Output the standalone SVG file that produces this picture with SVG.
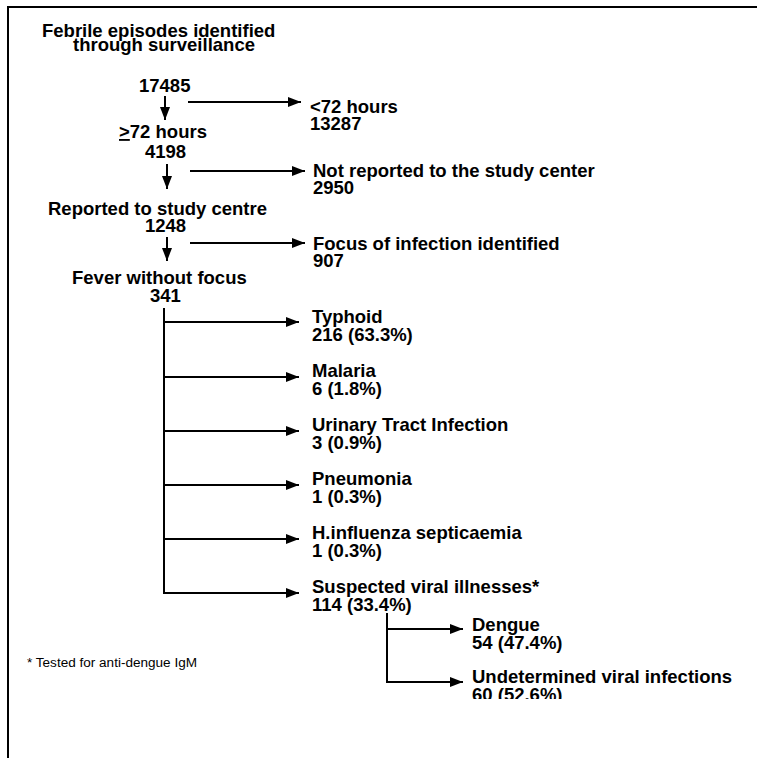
<svg xmlns="http://www.w3.org/2000/svg" width="757" height="758" viewBox="0 0 757 758">
<style>
.t{font-family:"Liberation Sans",Arial,sans-serif;font-size:18.5px;font-weight:bold;fill:#000}
.fn{font-family:"Liberation Sans",Arial,sans-serif;font-size:12px;fill:#000}
.c{stroke:#000;stroke-width:2;fill:none}
</style>
<defs>
<marker id="ah" markerUnits="userSpaceOnUse" markerWidth="14" markerHeight="10" refX="13" refY="5" orient="auto">
<path d="M0,0 L13,5 L0,10 z" fill="#000"/>
</marker>
<clipPath id="clip907"><rect x="300" y="240" width="200" height="28"/></clipPath>
<clipPath id="clip60"><rect x="460" y="670" width="300" height="29"/></clipPath>
</defs>
<rect width="757" height="758" fill="#fff"/>
<g id="frame">
<path class="c" d="M8,758 L8,7 L757,7"/>
</g>
<g id="connectors">
<path class="c" d="M165,96 L165,120" marker-end="url(#ah)"/>
<path class="c" d="M188,102 L301,102" marker-end="url(#ah)"/>
<path class="c" d="M167,164 L167,189" marker-end="url(#ah)"/>
<path class="c" d="M190,171 L305,171" marker-end="url(#ah)"/>
<path class="c" d="M167,237 L167,261" marker-end="url(#ah)"/>
<path class="c" d="M190,243 L305,243" marker-end="url(#ah)"/>
<path class="c" d="M164,308 L164,593"/>
<path class="c" d="M163,322 L299,322" marker-end="url(#ah)"/>
<path class="c" d="M163,377 L299,377" marker-end="url(#ah)"/>
<path class="c" d="M163,431 L299,431" marker-end="url(#ah)"/>
<path class="c" d="M163,485 L299,485" marker-end="url(#ah)"/>
<path class="c" d="M163,539 L299,539" marker-end="url(#ah)"/>
<path class="c" d="M163,593 L299,593" marker-end="url(#ah)"/>
<path class="c" d="M387,613 L387,683"/>
<path class="c" d="M386,629 L463,629" marker-end="url(#ah)"/>
<path class="c" d="M386,682 L463,682" marker-end="url(#ah)"/>
</g>
<g id="n-febrile">
<text class="t" x="42" y="37">Febrile episodes identified</text>
<text class="t" x="73" y="51">through surveillance</text>
<text class="t" x="139" y="92">17485</text>
</g>
<g id="n-lt72">
<text class="t" x="310" y="113">&lt;72 hours</text>
<text class="t" x="310" y="130">13287</text>
</g>
<g id="n-ge72">
<text class="t" x="119" y="138"><tspan text-decoration="underline">&gt;</tspan>72 hours</text>
<text class="t" x="145" y="158">4198</text>
</g>
<g id="n-notreported">
<text class="t" x="313" y="177">Not reported to the study center</text>
<text class="t" x="313" y="194">2950</text>
</g>
<g id="n-reported">
<text class="t" x="48" y="215">Reported to study centre</text>
<text class="t" x="145" y="232">1248</text>
</g>
<g id="n-focus">
<text class="t" x="313" y="250">Focus of infection identified</text>
<text class="t" x="313" y="267" clip-path="url(#clip907)">907</text>
</g>
<g id="n-fwf">
<text class="t" x="72" y="284">Fever without focus</text>
<text class="t" x="150" y="302">341</text>
</g>
<g id="n-typhoid">
<text class="t" x="312" y="323">Typhoid</text>
<text class="t" x="312" y="341">216 (63.3%)</text>
</g>
<g id="n-malaria">
<text class="t" x="312" y="377">Malaria</text>
<text class="t" x="312" y="395">6 (1.8%)</text>
</g>
<g id="n-uti">
<text class="t" x="312" y="431">Urinary Tract Infection</text>
<text class="t" x="312" y="449">3 (0.9%)</text>
</g>
<g id="n-pneumonia">
<text class="t" x="312" y="485">Pneumonia</text>
<text class="t" x="312" y="503">1 (0.3%)</text>
</g>
<g id="n-hinf">
<text class="t" x="312" y="539">H.influenza septicaemia</text>
<text class="t" x="312" y="557">1 (0.3%)</text>
</g>
<g id="n-viral">
<text class="t" x="312" y="593">Suspected viral illnesses*</text>
<text class="t" x="312" y="611">114 (33.4%)</text>
</g>
<g id="n-dengue">
<text class="t" x="472" y="631">Dengue</text>
<text class="t" x="472" y="649">54 (47.4%)</text>
</g>
<g id="n-undet">
<text class="t" x="472" y="683">Undetermined viral infections</text>
<text class="t" x="472" y="701" clip-path="url(#clip60)">60 (52.6%)</text>
</g>
<g id="footnote">
<text class="fn" x="27" y="667" textLength="170" lengthAdjust="spacingAndGlyphs">* Tested for anti-dengue IgM</text>
</g>
</svg>
